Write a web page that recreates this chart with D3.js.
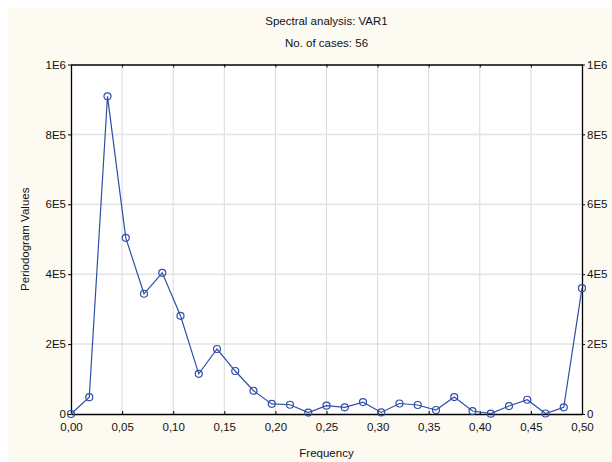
<!DOCTYPE html>
<html>
<head>
<meta charset="utf-8">
<script src="https://cdn.jsdelivr.net/npm/d3@7"></script>
<style>
  body { margin: 0; background: #ffffff; }
  text { font-family: "Liberation Sans", Arial, sans-serif; fill: #111; }
</style>
</head>
<body>
<div id="chart"></div>
<script>
// periodogram, N = 56 -> frequencies k/56
var nCases = 56;
var periodogram = [0, 48000, 909000, 504000, 344000, 404000, 281000, 115000, 186000,
  123000, 66500, 29000, 26500, 4000, 23700, 19000, 34000, 4500, 30000, 25700,
  11400, 48500, 8500, 1000, 22800, 40800, 1500, 19000, 360000];
var frequency = periodogram.map(function(v, i) { return i / nCases; });
var xTicks = [0, 0.05, 0.10, 0.15, 0.20, 0.25, 0.30, 0.35, 0.40, 0.45, 0.50];
var yTicks = [0, 200000, 400000, 600000, 800000, 1000000];
var yTickLabels = ["0", "2E5", "4E5", "6E5", "8E5", "1E6"];

var margin = {top: 64.5, right: 30, bottom: 48, left: 71},
    width = 612 - margin.left - margin.right,
    height = 462 - margin.top - margin.bottom;

var root = d3.select("#chart")
  .append("svg")
    .attr("width", 612)
    .attr("height", 462);

// cream panel, white strip on top and left
root.append("rect")
  .attr("x", 8)
  .attr("y", 8)
  .attr("width", 604)
  .attr("height", 454)
  .attr("fill", "#fdfaf2");

var svg = root.append("g")
    .attr("transform", "translate(" + margin.left + "," + margin.top + ")");

var x = d3.scaleLinear().domain([0, 0.5]).range([0, width]);
var y = d3.scaleLinear().domain([0, 1000000]).range([height, 0]);

svg.append("rect")
  .attr("width", width)
  .attr("height", height)
  .attr("fill", "#ffffff");

// grid
svg.append("g")
  .selectAll("line")
  .data(xTicks.slice(1, -1))
  .enter().append("line")
    .attr("x1", function(d) { return x(d); })
    .attr("x2", function(d) { return x(d); })
    .attr("y1", 0)
    .attr("y2", height)
    .attr("stroke", "#d9d9d9");

svg.append("g")
  .selectAll("line")
  .data(yTicks.slice(1, -1))
  .enter().append("line")
    .attr("x1", 0)
    .attr("x2", width)
    .attr("y1", function(d) { return y(d); })
    .attr("y2", function(d) { return y(d); })
    .attr("stroke", "#e3e3e3")
    .attr("stroke-width", 1.5);

var fmtX = function(d) { return d3.format(".2f")(d).replace(".", ","); };
var fmtY = function(d, i) { return yTickLabels[i]; };

function styleAxis(g) {
  g.select(".domain").attr("stroke", "#000");
  g.selectAll(".tick line").attr("stroke", "#000");
  g.selectAll(".tick text").style("font-size", "11.5px")
    .style("font-family", "Liberation Sans, Arial, sans-serif").attr("fill", "#111");
}

svg.append("g")
  .attr("transform", "translate(0," + height + ")")
  .call(d3.axisBottom(x).tickValues(xTicks).tickFormat(fmtX).tickSizeInner(-3).tickSizeOuter(0).tickPadding(9))
  .call(styleAxis);

svg.append("g")
  .call(d3.axisTop(x).tickValues(xTicks).tickFormat("").tickSizeInner(-3).tickSizeOuter(0))
  .call(styleAxis);

svg.append("g")
  .call(d3.axisLeft(y).tickValues(yTicks).tickFormat(fmtY).tickSizeInner(3).tickSizeOuter(0).tickPadding(2))
  .call(styleAxis);

svg.append("g")
  .attr("transform", "translate(" + width + ",0)")
  .call(d3.axisRight(y).tickValues(yTicks).tickFormat(fmtY).tickSizeInner(3).tickSizeOuter(0).tickPadding(2))
  .call(styleAxis);

svg.selectAll(".domain").attr("stroke-width", 1.3);

// series
var line = d3.line()
  .x(function(d, i) { return x(frequency[i]); })
  .y(function(d) { return y(d); });

svg.append("path")
  .datum(periodogram)
  .attr("d", line)
  .attr("fill", "none")
  .attr("stroke", "#2f4fa8")
  .attr("stroke-width", 1.2);

svg.append("g")
  .selectAll("circle")
  .data(periodogram)
  .enter().append("circle")
    .attr("cx", function(d, i) { return x(frequency[i]); })
    .attr("cy", function(d) { return y(d); })
    .attr("r", 3.5)
    .attr("fill", "none")
    .attr("stroke", "#2f4fa8")
    .attr("stroke-width", 1.2);

// titles
svg.append("text")
  .attr("x", width / 2)
  .attr("y", -40)
  .attr("text-anchor", "middle")
  .style("font-size", "11.5px")
  .text("Spectral analysis: VAR1");

svg.append("text")
  .attr("x", width / 2)
  .attr("y", -18)
  .attr("text-anchor", "middle")
  .style("font-size", "11.5px")
  .text("No. of cases: " + nCases);

svg.append("text")
  .attr("x", width / 2)
  .attr("y", height + 43)
  .attr("text-anchor", "middle")
  .style("font-size", "11.5px")
  .text("Frequency");

svg.append("text")
  .attr("transform", "rotate(-90)")
  .attr("x", -height / 2)
  .attr("y", -42)
  .attr("text-anchor", "middle")
  .style("font-size", "11.5px")
  .text("Periodogram Values");
</script>
</body>
</html>
